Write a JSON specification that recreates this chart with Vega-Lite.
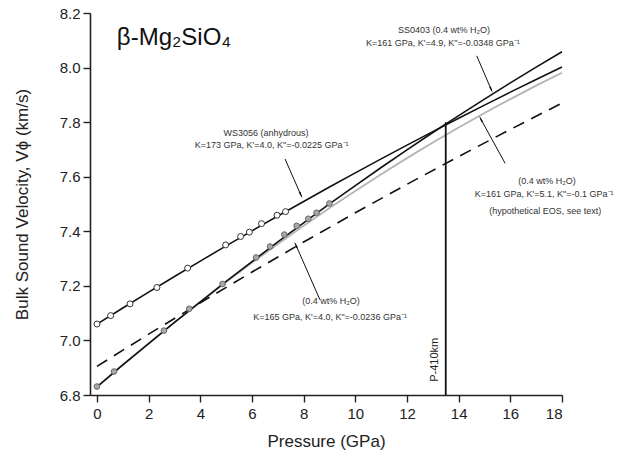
{
  "$schema": "https://vega.github.io/schema/vega-lite/v6.json",
  "autosize": "none",
  "width": 472,
  "height": 382,
  "padding": {"left": 90, "top": 13, "right": 78, "bottom": 61},
  "config": {
    "view": {"stroke": null},
    "font": "Liberation Sans",
    "axis": {"grid": false, "domainColor": "#222", "domainWidth": 1.6, "tickColor": "#222", "tickWidth": 1.4, "tickSize": 7, "labelColor": "#222", "labelFont": "Liberation Sans", "titleFont": "Liberation Sans", "titleColor": "#222", "titleFontWeight": "normal"}
  },
  "datasets": {
    "curves": [
      {"series": "hyp", "P": 0, "V": 6.830}, {"series": "hyp", "P": 1, "V": 6.9107}, {"series": "hyp", "P": 2, "V": 6.9894}, {"series": "hyp", "P": 3, "V": 7.0661}, {"series": "hyp", "P": 4, "V": 7.1409}, {"series": "hyp", "P": 5, "V": 7.2137}, {"series": "hyp", "P": 6, "V": 7.2845}, {"series": "hyp", "P": 7, "V": 7.3533}, {"series": "hyp", "P": 8, "V": 7.4202}, {"series": "hyp", "P": 9, "V": 7.4852}, {"series": "hyp", "P": 10, "V": 7.5481}, {"series": "hyp", "P": 11, "V": 7.6091}, {"series": "hyp", "P": 12, "V": 7.6681}, {"series": "hyp", "P": 13, "V": 7.7252}, {"series": "hyp", "P": 14, "V": 7.7802}, {"series": "hyp", "P": 15, "V": 7.8334}, {"series": "hyp", "P": 16, "V": 7.8845}, {"series": "hyp", "P": 17, "V": 7.9337}, {"series": "hyp", "P": 18, "V": 7.9809},
      {"series": "dash", "P": 0, "V": 6.905}, {"series": "dash", "P": 2, "V": 7.0229}, {"series": "dash", "P": 4, "V": 7.1381}, {"series": "dash", "P": 6, "V": 7.2506}, {"series": "dash", "P": 8, "V": 7.3605}, {"series": "dash", "P": 10, "V": 7.4677}, {"series": "dash", "P": 12, "V": 7.5722}, {"series": "dash", "P": 14, "V": 7.6741}, {"series": "dash", "P": 16, "V": 7.7733}, {"series": "dash", "P": 18, "V": 7.8699},
      {"series": "anhydrous", "P": 0, "V": 7.060}, {"series": "anhydrous", "P": 1, "V": 7.1189}, {"series": "anhydrous", "P": 2, "V": 7.1769}, {"series": "anhydrous", "P": 3, "V": 7.2343}, {"series": "anhydrous", "P": 4, "V": 7.2908}, {"series": "anhydrous", "P": 5, "V": 7.3466}, {"series": "anhydrous", "P": 6, "V": 7.4016}, {"series": "anhydrous", "P": 7, "V": 7.4559}, {"series": "anhydrous", "P": 8, "V": 7.5094}, {"series": "anhydrous", "P": 9, "V": 7.5621}, {"series": "anhydrous", "P": 10, "V": 7.6141}, {"series": "anhydrous", "P": 11, "V": 7.6653}, {"series": "anhydrous", "P": 12, "V": 7.7158}, {"series": "anhydrous", "P": 13, "V": 7.7654}, {"series": "anhydrous", "P": 14, "V": 7.8144}, {"series": "anhydrous", "P": 15, "V": 7.8625}, {"series": "anhydrous", "P": 16, "V": 7.9099}, {"series": "anhydrous", "P": 17, "V": 7.9565}, {"series": "anhydrous", "P": 18, "V": 8.0024},
      {"series": "SS0403", "P": 0, "V": 6.830}, {"series": "SS0403", "P": 1, "V": 6.9100}, {"series": "SS0403", "P": 2, "V": 6.9886}, {"series": "SS0403", "P": 3, "V": 7.0658}, {"series": "SS0403", "P": 4, "V": 7.1416}, {"series": "SS0403", "P": 5, "V": 7.2161}, {"series": "SS0403", "P": 6, "V": 7.2891}, {"series": "SS0403", "P": 7, "V": 7.3608}, {"series": "SS0403", "P": 8, "V": 7.4311}, {"series": "SS0403", "P": 9, "V": 7.5001}, {"series": "SS0403", "P": 10, "V": 7.5676}, {"series": "SS0403", "P": 11, "V": 7.6338}, {"series": "SS0403", "P": 12, "V": 7.6985}, {"series": "SS0403", "P": 13, "V": 7.7619}, {"series": "SS0403", "P": 14, "V": 7.8239}, {"series": "SS0403", "P": 15, "V": 7.8846}, {"series": "SS0403", "P": 16, "V": 7.9438}, {"series": "SS0403", "P": 17, "V": 8.0017}, {"series": "SS0403", "P": 18, "V": 8.0582}
    ],
    "points": [
      {"sample": "WS3056", "P": 0, "V": 7.060}, {"sample": "WS3056", "P": 0.53, "V": 7.091}, {"sample": "WS3056", "P": 1.28, "V": 7.134}, {"sample": "WS3056", "P": 2.32, "V": 7.194}, {"sample": "WS3056", "P": 3.51, "V": 7.265}, {"sample": "WS3056", "P": 4.98, "V": 7.350}, {"sample": "WS3056", "P": 5.56, "V": 7.381}, {"sample": "WS3056", "P": 5.90, "V": 7.397}, {"sample": "WS3056", "P": 6.37, "V": 7.428}, {"sample": "WS3056", "P": 6.97, "V": 7.459}, {"sample": "WS3056", "P": 7.30, "V": 7.472},
      {"sample": "SS0403", "P": 0, "V": 6.831}, {"sample": "SS0403", "P": 0.66, "V": 6.886}, {"sample": "SS0403", "P": 2.59, "V": 7.036}, {"sample": "SS0403", "P": 3.57, "V": 7.116}, {"sample": "SS0403", "P": 4.86, "V": 7.207}, {"sample": "SS0403", "P": 6.16, "V": 7.304}, {"sample": "SS0403", "P": 6.70, "V": 7.344}, {"sample": "SS0403", "P": 7.25, "V": 7.388}, {"sample": "SS0403", "P": 7.73, "V": 7.420}, {"sample": "SS0403", "P": 8.18, "V": 7.446}, {"sample": "SS0403", "P": 8.50, "V": 7.468}, {"sample": "SS0403", "P": 9.0, "V": 7.502}
    ],
    "arrows": [
      {"arrow": "ws", "P": 7.28, "V": 7.665}, {"arrow": "ws", "P": 7.92, "V": 7.527},
      {"arrow": "ss", "P": 14.70, "V": 8.043}, {"arrow": "ss", "P": 15.28, "V": 7.915},
      {"arrow": "hyp", "P": 15.80, "V": 7.649}, {"arrow": "hyp", "P": 14.83, "V": 7.816},
      {"arrow": "dash", "P": 8.63, "V": 7.149}, {"arrow": "dash", "P": 7.67, "V": 7.356}
    ],
    "heads": [
      {"arrow": "ws", "P": 7.88, "V": 7.536},
      {"arrow": "ss", "P": 15.25, "V": 7.922},
      {"arrow": "hyp", "P": 14.87, "V": 7.809},
      {"arrow": "dash", "P": 7.71, "V": 7.347}
    ],
    "labels": [
      {"text": "WS3056 (anhydrous)", "P": 6.54, "V": 7.759},
      {"text": "K=173 GPa, K'=4.0, K\"=-0.0225 GPa⁻¹", "P": 6.76, "V": 7.716},
      {"text": "SS0403 (0.4 wt% H₂O)", "P": 13.43, "V": 8.138},
      {"text": "K=161 GPa, K'=4.9, K\"=-0.0348 GPa⁻¹", "P": 13.39, "V": 8.089},
      {"text": "(0.4 wt% H₂O)", "P": 17.42, "V": 7.586},
      {"text": "K=161 GPa, K'=5.1, K\"=-0.1 GPa⁻¹", "P": 17.31, "V": 7.537},
      {"text": "(hypothetical EOS, see text)", "P": 17.35, "V": 7.476},
      {"text": "(0.4 wt% H₂O)", "P": 9.06, "V": 7.146},
      {"text": "K=165 GPa, K'=4.0, K\"=-0.0236 GPa⁻¹", "P": 9.02, "V": 7.085}
    ],
    "rule410": [{"label": "P-410km", "P": 13.5, "V": 6.8, "V2": 7.8, "Pt": 13.09, "Vt": 6.929}],
    "title": [{"text": "β-Mg₂SiO₄", "P": 0.77, "V": 8.083}]
  },
  "encoding": {
    "x": {"field": "P", "type": "quantitative", "scale": {"domain": [-0.27, 18], "nice": false, "zero": false},
      "axis": {"values": [0, 2, 4, 6, 8, 10, 12, 14, 16, 18], "title": "Pressure (GPa)", "labelFontSize": 15, "titleFontSize": 17, "labelPadding": 4, "titlePadding": 12}},
    "y": {"field": "V", "type": "quantitative", "scale": {"domain": [6.8, 8.2], "nice": false, "zero": false},
      "axis": {"values": [6.8, 7.0, 7.2, 7.4, 7.6, 7.8, 8.0, 8.2], "format": ".1f", "title": "Bulk Sound Velocity, Vϕ (km/s)", "labelFontSize": 15, "titleFontSize": 17, "labelPadding": 3, "titlePadding": 28}}
  },
  "layer": [
    {"data": {"name": "curves"}, "transform": [{"filter": "datum.series == 'hyp'"}],
      "mark": {"type": "line", "color": "#b4b4b4", "strokeWidth": 1.8}},
    {"data": {"name": "curves"}, "transform": [{"filter": "datum.series == 'dash'"}],
      "mark": {"type": "line", "color": "#111", "strokeWidth": 1.6, "strokeDash": [12, 8]}},
    {"data": {"name": "curves"}, "transform": [{"filter": "datum.series == 'anhydrous' || datum.series == 'SS0403'"}],
      "mark": {"type": "line", "color": "#111", "strokeWidth": 1.6},
      "encoding": {"detail": {"field": "series"}}},
    {"data": {"name": "rule410"}, "mark": {"type": "rule", "color": "#111", "strokeWidth": 1.8},
      "encoding": {"y2": {"field": "V2"}}},
    {"data": {"name": "rule410"}, "mark": {"type": "text", "angle": 270, "fontSize": 11, "color": "#222", "align": "center", "baseline": "middle", "font": "Liberation Sans"},
      "encoding": {"x": {"field": "Pt", "type": "quantitative"}, "y": {"field": "Vt", "type": "quantitative"}, "text": {"field": "label"}}},
    {"data": {"name": "points"}, "transform": [{"filter": "datum.sample == 'WS3056'"}],
      "mark": {"type": "point", "shape": "circle", "filled": true, "fill": "white", "stroke": "#333", "strokeWidth": 1, "size": 36, "opacity": 1}},
    {"data": {"name": "points"}, "transform": [{"filter": "datum.sample == 'SS0403'"}],
      "mark": {"type": "point", "shape": "circle", "filled": true, "fill": "#a8a8a8", "stroke": "#666", "strokeWidth": 1, "size": 32, "opacity": 1}},
    {"data": {"name": "arrows"}, "mark": {"type": "line", "color": "#111", "strokeWidth": 1},
      "encoding": {"detail": {"field": "arrow"}}},
    {"data": {"name": "heads"}, "transform": [{"filter": "datum.arrow == 'ws' || datum.arrow == 'ss'"}],
      "mark": {"type": "point", "shape": "wedge", "angle": 156, "filled": true, "color": "#111", "size": 60, "opacity": 1}},
    {"data": {"name": "heads"}, "transform": [{"filter": "datum.arrow == 'hyp' || datum.arrow == 'dash'"}],
      "mark": {"type": "point", "shape": "wedge", "angle": 334, "filled": true, "color": "#111", "size": 60, "opacity": 1}},
    {"data": {"name": "labels"}, "mark": {"type": "text", "fontSize": 9, "color": "#333", "align": "center", "baseline": "middle", "font": "Liberation Sans"},
      "encoding": {"text": {"field": "text"}}},
    {"data": {"name": "title"}, "mark": {"type": "text", "fontSize": 24, "color": "#111", "align": "left", "baseline": "alphabetic", "font": "Liberation Sans"},
      "encoding": {"text": {"field": "text"}}}
  ]
}
